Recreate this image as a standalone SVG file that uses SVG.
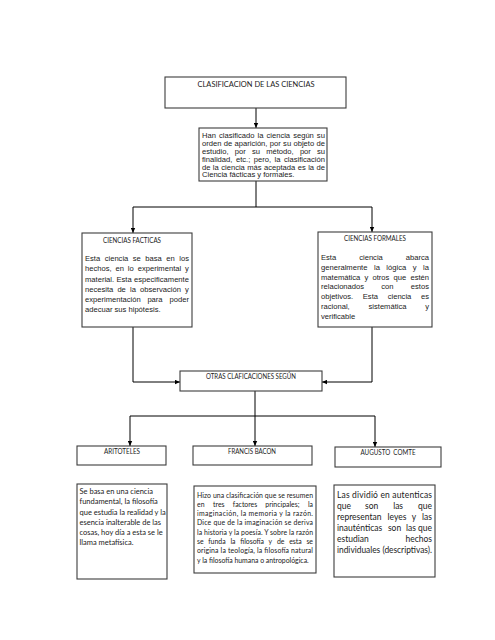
<svg xmlns="http://www.w3.org/2000/svg" width="495" height="640" viewBox="0 0 495 640">
<defs>
<marker id="ah" viewBox="0 0 6 6" refX="6" refY="3" markerWidth="5" markerHeight="5" markerUnits="userSpaceOnUse" orient="auto">
<path d="M0,0.4 L6,3 L0,5.6 z" fill="#000"/>
</marker>
<style>
.box{fill:#fff;stroke:#3c3c3c;stroke-width:1.1}
.ln{fill:none;stroke:#000;stroke-width:1}
.ar{font-family:"Liberation Sans",Arial,sans-serif;font-size:7.6px;fill:#1a1a1a}
.cal{font-family:Lato,"Open Sans",sans-serif;fill:#1a1a1a}
.ttl{font-family:Lato,"Open Sans",sans-serif;fill:#1a1a1a;font-size:7.2px;text-anchor:middle}
.c1{font-size:7.5px}
.c2{font-size:6.9px}
.c3{font-size:8.5px}
</style>
</defs>
<rect width="495" height="640" fill="#fff"/>

<g id="connectors">
<path class="ln" d="M256,108 V128" marker-end="url(#ah)"/>
<path class="ln" d="M256,181 V207 M133,207 H372"/>
<path class="ln" d="M133,207 V233" marker-end="url(#ah)"/>
<path class="ln" d="M372,207 V232" marker-end="url(#ah)"/>
<path class="ln" d="M133,327 V382 H180" marker-end="url(#ah)"/>
<path class="ln" d="M372,327 V382 H322" marker-end="url(#ah)"/>
<path class="ln" d="M255,391 V416 M130,416 H375"/>
<path class="ln" d="M130,416 V446" marker-end="url(#ah)"/>
<path class="ln" d="M255,416 V446" marker-end="url(#ah)"/>
<path class="ln" d="M375,416 V447" marker-end="url(#ah)"/>
</g>

<g id="n-titulo">
<rect class="box" x="165" y="77" width="181" height="31"/>
<text class="cal" x="256" y="87" font-size="8.2" text-anchor="middle" textLength="117" lengthAdjust="spacingAndGlyphs">CLASIFICACION DE LAS CIENCIAS</text>
</g>

<g id="n-intro">
<rect class="box" x="199" y="128" width="128" height="53"/>
<text class="ar" x="202" y="138" style="word-spacing:0.94px">Han clasificado la ciencia según su</text>
<text class="ar" x="202" y="146" style="word-spacing:0.22px">orden de aparición, por su objeto de</text>
<text class="ar" y="154"><tspan x="202">estudio,</tspan><tspan x="234.8">por</tspan><tspan x="252">su</tspan><tspan x="266.2">método,</tspan><tspan x="299.9">por</tspan><tspan x="325" text-anchor="end">su</tspan></text>
<text class="ar" x="202" y="161.8" style="word-spacing:1.4px">finalidad, etc.; pero, la clasificación</text>
<text class="ar" x="202" y="169.6" style="word-spacing:0.31px">de la ciencia más aceptada es la de</text>
<text class="ar" x="202" y="177.4">Ciencia fácticas y formales.</text>
</g>

<g id="n-facticas">
<rect class="box" x="82" y="233" width="110" height="94"/>
<text class="ttl" x="132" y="243" textLength="58" lengthAdjust="spacingAndGlyphs">CIENCIAS FACTICAS</text>
<text class="ar" x="85" y="261" style="word-spacing:2.38px">Esta ciencia se basa en los</text>
<text class="ar" x="85" y="271.2" style="word-spacing:1.8px">hechos, en lo experimental y</text>
<text class="ar" x="85" y="281.6" style="word-spacing:0.25px">material. Esta especificamente</text>
<text class="ar" x="85" y="291.8" style="word-spacing:2px">necesita de la observación y</text>
<text class="ar" y="302"><tspan x="85">experimentación</tspan><tspan x="147.4">para</tspan><tspan x="189" text-anchor="end">poder</tspan></text>
<text class="ar" x="85" y="312.2">adecuar sus hipótesis.</text>
</g>

<g id="n-formales">
<rect class="box" x="318" y="232" width="114" height="95"/>
<text class="ttl" x="375" y="241" textLength="62" lengthAdjust="spacingAndGlyphs">CIENCIAS FORMALES</text>
<text class="ar" y="259.5"><tspan x="321">Esta</tspan><tspan x="359.2">ciencia</tspan><tspan x="429" text-anchor="end">abarca</tspan></text>
<text class="ar" x="321" y="269.5" style="word-spacing:4.4px">generalmente la lógica y la</text>
<text class="ar" x="321" y="279.5" style="word-spacing:2.1px">matemática y otros que estén</text>
<text class="ar" y="289.3"><tspan x="321">relacionados</tspan><tspan x="381.3">con</tspan><tspan x="429" text-anchor="end">estos</tspan></text>
<text class="ar" y="299.2"><tspan x="321">objetivos.</tspan><tspan x="362.8">Esta</tspan><tspan x="387.7">ciencia</tspan><tspan x="429" text-anchor="end">es</tspan></text>
<text class="ar" y="309"><tspan x="321">racional,</tspan><tspan x="368.5">sistemática</tspan><tspan x="429" text-anchor="end">y</tspan></text>
<text class="ar" x="321" y="318.8">verificable</text>
</g>

<g id="n-otras">
<rect class="box" x="180" y="371" width="142" height="20"/>
<text class="ttl" x="251" y="379" textLength="90" lengthAdjust="spacingAndGlyphs">OTRAS CLAFICACIONES SEGÚN</text>
</g>

<g id="n-aristoteles">
<rect class="box" x="77" y="446" width="89" height="19"/>
<text class="ttl" x="122" y="453.5" textLength="36" lengthAdjust="spacingAndGlyphs">ARITOTELES</text>
</g>

<g id="n-bacon">
<rect class="box" x="193" y="446" width="119" height="19"/>
<text class="ttl" x="252" y="453.5" textLength="48" lengthAdjust="spacingAndGlyphs">FRANCIS BACON</text>
</g>

<g id="n-comte">
<rect class="box" x="335" y="447" width="106" height="20"/>
<text class="ttl" x="388" y="455" textLength="55" lengthAdjust="spacingAndGlyphs">AUGUSTO&#160; COMTE</text>
</g>

<g id="n-aristoteles-desc">
<rect class="box" x="77" y="484" width="90" height="95"/>
<text class="cal c1" x="79.5" y="494">Se basa en una ciencia</text>
<text class="cal c1" x="79.5" y="504.2">fundamental, la filosofía</text>
<text class="cal c1" x="79.5" y="514.5">que estudia la realidad y la</text>
<text class="cal c1" x="79.5" y="524.8">esencia inalterable de las</text>
<text class="cal c1" x="79.5" y="535">cosas, hoy día a esta se le</text>
<text class="cal c1" x="79.5" y="545.2">llama metafísica.</text>
</g>

<g id="n-bacon-desc">
<rect class="box" x="194" y="486" width="122" height="87"/>
<text class="cal c2" x="197" y="497.5" textLength="116" lengthAdjust="spacing">Hizo una clasificación que se resumen</text>
<text class="cal c2" y="506.8"><tspan x="197">en</tspan><tspan x="218.8" text-anchor="middle">tres</tspan><tspan x="245" text-anchor="middle">factores</tspan><tspan x="282.4" text-anchor="middle">principales;</tspan><tspan x="313" text-anchor="end">la</tspan></text>
<text class="cal c2" x="197" y="516.1" textLength="116" lengthAdjust="spacing">imaginación, la memoria y la razón.</text>
<text class="cal c2" x="197" y="525.4" textLength="116" lengthAdjust="spacing">Dice que de la imaginación se deriva</text>
<text class="cal c2" x="197" y="534.7" textLength="116" lengthAdjust="spacing">la historia y la poesía. Y sobre la razón</text>
<text class="cal c2" y="544"><tspan x="197">se</tspan><tspan x="216.9" text-anchor="middle">funda</tspan><tspan x="233" text-anchor="middle">la</tspan><tspan x="252.1" text-anchor="middle">filosofía</tspan><tspan x="270.3" text-anchor="middle">y</tspan><tspan x="280.7" text-anchor="middle">de</tspan><tspan x="295.5" text-anchor="middle">esta</tspan><tspan x="313" text-anchor="end">se</tspan></text>
<text class="cal c2" x="197" y="553.3" textLength="116" lengthAdjust="spacing">origina la teología, la filosofía natural</text>
<text class="cal c2" x="197" y="562.6">y la filosofía humana o antropológica.</text>
</g>

<g id="n-comte-desc">
<rect class="box" x="334" y="485" width="101" height="92"/>
<text class="cal c3" x="337" y="498" textLength="95" lengthAdjust="spacing">Las dividió en autenticas</text>
<text class="cal c3" y="509"><tspan x="337">que</tspan><tspan x="371.6" text-anchor="middle">son</tspan><tspan x="398.1" text-anchor="middle">las</tspan><tspan x="432" text-anchor="end">que</tspan></text>
<text class="cal c3" y="520"><tspan x="337">representan</tspan><tspan x="397" text-anchor="middle">leyes</tspan><tspan x="414" text-anchor="middle">y</tspan><tspan x="432" text-anchor="end">las</tspan></text>
<text class="cal c3" y="531"><tspan x="337">inauténticas</tspan><tspan x="394.5" text-anchor="middle">son</tspan><tspan x="411" text-anchor="middle">las</tspan><tspan x="432" text-anchor="end">que</tspan></text>
<text class="cal c3" y="542"><tspan x="337">estudian</tspan><tspan x="432" text-anchor="end">hechos</tspan></text>
<text class="cal c3" x="337" y="552.5" textLength="95" lengthAdjust="spacingAndGlyphs">individuales (descriptivas).</text>
</g>
</svg>
